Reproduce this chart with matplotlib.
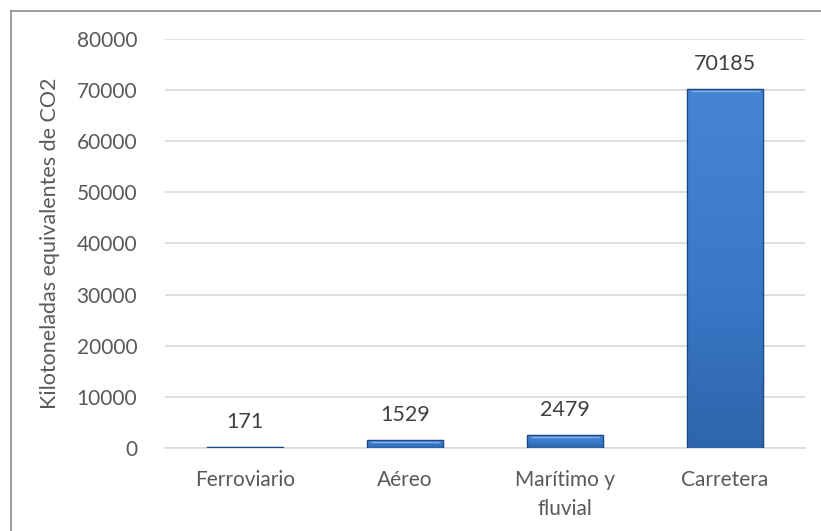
import numpy as np
import matplotlib
matplotlib.use("Agg")
import matplotlib.pyplot as plt
from matplotlib.colors import LinearSegmentedColormap

# Emisiones del transporte por modo (kt CO2 eq)
modos = ["Ferroviario", "Aéreo", "Marítimo y\nfluvial", "Carretera"]
emisiones = [171, 1529, 2479, 70185]
yticks = [0, 10000, 20000, 30000, 40000, 50000, 60000, 70000, 80000]

plt.rcParams["font.family"] = ["Lato", "DejaVu Sans"]

fig = plt.figure(figsize=(8.21, 5.31), dpi=100)
ax = fig.add_axes([0.201, 0.1563, 0.7795, 0.7703])

x = np.arange(len(modos))
bars = ax.bar(x, emisiones, width=0.47, color="#3d7cc9",
              edgecolor="#1f4a80", linewidth=0.9, zorder=3)

# degradado vertical dentro de cada barra
cmap = LinearSegmentedColormap.from_list("azul", ["#2f65ab", "#3b7acb", "#4685d4"])
grad = np.linspace(0, 1, 256).reshape(-1, 1)
for b in bars:
    x0, y0 = b.get_x(), b.get_y()
    w, h = b.get_width(), b.get_height()
    im = ax.imshow(grad, cmap=cmap, origin="lower", aspect="auto",
                   extent=(x0, x0 + w, y0, y0 + h), zorder=3.5)
    im.set_clip_path(b)
    # franja clara superior
    ax.plot([x0 + 0.02, x0 + w - 0.02], [y0 + h - 400, y0 + h - 400],
            color="#7fb0ea", lw=1.0, zorder=4, solid_capstyle="butt")
    ax.plot([x0, x0 + w, x0 + w, x0, x0], [y0, y0, y0 + h, y0 + h, y0],
            color="#1f4a80", lw=0.9, zorder=4.5)

for xi, v in zip(x, emisiones):
    ax.text(xi, v + 3000, str(v), ha="center", va="bottom",
            fontsize=15.5, color="#404040")

ax.set_xlim(-0.5, len(modos) - 0.5)
ax.set_ylim(0, 80000)
ax.set_yticks(yticks)
ax.set_yticklabels([str(t) for t in yticks])
ax.set_xticks(x)
ax.set_xticklabels(modos, linespacing=1.55)
ax.tick_params(axis="both", length=0, labelsize=15, colors="#595959")
ax.tick_params(axis="x", pad=16)
ax.tick_params(axis="y", pad=20)
ax.grid(axis="y", color="#d9d9d9", lw=1.2, zorder=0)
for s in ["top", "right", "left"]:
    ax.spines[s].set_visible(False)
ax.spines["bottom"].set_color("#d9d9d9")
ax.spines["bottom"].set_linewidth(1.2)
ax.set_ylabel("Kilotoneladas equivalentes de CO2", fontsize=15.5,
              color="#595959", labelpad=12)

# marco del gráfico (recortado a la derecha y abajo)
fig.add_artist(plt.Line2D([11 / 821, 11 / 821], [0, 1 - 11 / 531],
                          transform=fig.transFigure, color="#8c8c8c", lw=1.2))
fig.add_artist(plt.Line2D([11 / 821, 1], [1 - 11 / 531, 1 - 11 / 531],
                          transform=fig.transFigure, color="#8c8c8c", lw=1.2))

fig.savefig("out.png", dpi=100)
